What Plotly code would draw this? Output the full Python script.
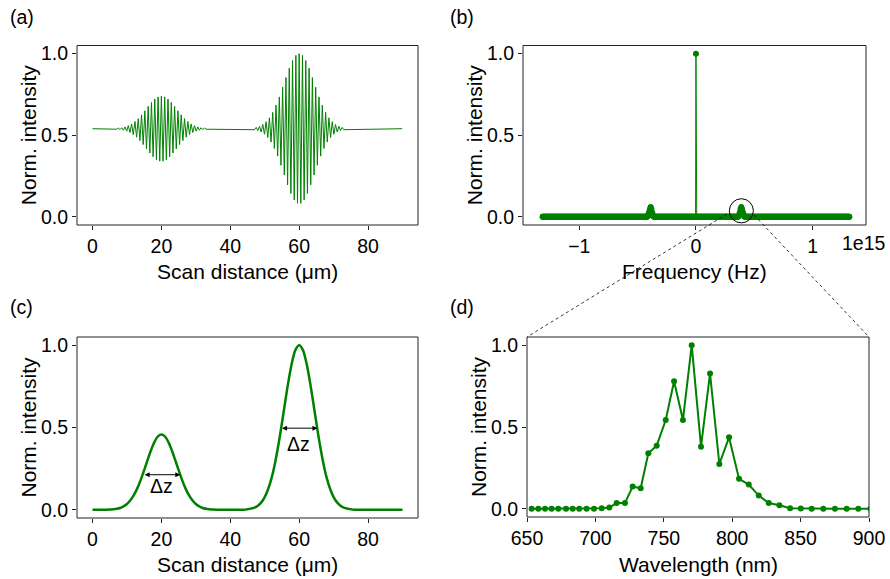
import numpy as np
import plotly.graph_objects as go

W, H = 890, 579
GREEN = "#008000"
FONT = "Liberation Sans, Arial, sans-serif"

# ---------------- (a) interferogram: fringe extremes
scan_a_um = [0.0,
    7.04, 7.52, 8.00, 8.48, 8.96, 9.44, 9.92, 10.40, 10.88, 11.36, 11.84, 12.32, 12.80, 13.28,
    13.76, 14.24, 14.72, 15.20, 15.68, 16.16, 16.64, 17.12, 17.60, 18.08, 18.56, 19.04, 19.52,
    20.00, 20.48, 20.96, 21.44, 21.92, 22.40, 22.88, 23.36, 23.84, 24.32, 24.80, 25.28, 25.76,
    26.24, 26.72, 27.20, 27.68, 28.16, 28.64, 29.12, 29.60, 30.08, 30.56, 31.04, 31.52, 32.00,
    32.48, 32.96,
    47.04, 47.52, 48.00, 48.48, 48.96, 49.44, 49.92, 50.40, 50.88, 51.36, 51.84, 52.32, 52.80, 53.28,
    53.76, 54.24, 54.72, 55.20, 55.68, 56.16, 56.64, 57.12, 57.60, 58.08, 58.56, 59.04, 59.52,
    60.00, 60.48, 60.96, 61.44, 61.92, 62.40, 62.88, 63.36, 63.84, 64.32, 64.80, 65.28, 65.76,
    66.24, 66.72, 67.20, 67.68, 68.16, 68.64, 69.12, 69.60, 70.08, 70.56, 71.04, 71.52, 72.00,
    72.48, 72.96,
    89.9]
signal_a = [0.54,
    0.537, 0.544, 0.535, 0.546, 0.531, 0.551, 0.525, 0.559, 0.517, 0.569, 0.504, 0.584, 0.488, 0.602,
    0.467, 0.625, 0.443, 0.650, 0.416, 0.677, 0.391, 0.701, 0.368, 0.722, 0.350, 0.735, 0.341,
    0.740, 0.341, 0.735, 0.350, 0.722, 0.368, 0.701, 0.391, 0.677, 0.416, 0.650, 0.443, 0.625,
    0.467, 0.602, 0.488, 0.584, 0.504, 0.569, 0.517, 0.559, 0.525, 0.551, 0.531, 0.546, 0.535,
    0.544, 0.537,
    0.534, 0.548, 0.529, 0.555, 0.520, 0.566, 0.506, 0.583, 0.486, 0.607, 0.458, 0.640, 0.419, 0.684,
    0.372, 0.735, 0.316, 0.794, 0.256, 0.854, 0.196, 0.911, 0.143, 0.958, 0.104, 0.989, 0.083,
    1.000, 0.083, 0.989, 0.104, 0.958, 0.143, 0.911, 0.196, 0.854, 0.256, 0.794, 0.316, 0.735,
    0.372, 0.684, 0.419, 0.640, 0.458, 0.607, 0.486, 0.583, 0.506, 0.566, 0.520, 0.555, 0.529,
    0.548, 0.534,
    0.54]

# ---------------- (c) envelope, sampled every 1 um from 0 to 90
scan_c_um = list(range(0, 91))
envelope_c = [0, 0, 0, 0, 0, 0.001, 0.003, 0.006, 0.011, 0.021,
              0.035, 0.058, 0.089, 0.130, 0.182, 0.241, 0.303, 0.363, 0.413, 0.446,
              0.457, 0.446, 0.413, 0.363, 0.303, 0.241, 0.182, 0.130, 0.089, 0.058,
              0.035, 0.021, 0.011, 0.006, 0.003, 0.001, 0, 0, 0, 0,
              0, 0, 0, 0, 0, 0.003, 0.007, 0.013, 0.025, 0.045,
              0.077, 0.126, 0.194, 0.285, 0.398, 0.527, 0.664, 0.794, 0.903, 0.975,
              1.000, 0.975, 0.903, 0.794, 0.664, 0.527, 0.398, 0.285, 0.194, 0.126,
              0.077, 0.045, 0.025, 0.013, 0.007, 0.003, 0, 0, 0, 0,
              0, 0, 0, 0, 0, 0, 0, 0, 0, 0, 0]
# FWHM markers (Δz)
dz_left = [14.7, 54.6]
dz_right = [25.5, 65.3]
dz_level = [0.213, 0.496]
dz_text_y = [0.142, 0.40]

# ---------------- (d) spectrum
wavelength_nm = [653.4, 658.3, 663.2, 668.0, 672.9, 678.5, 683.4, 688.2, 693.6, 699.0,
                 704.6, 710.2, 715.5, 721.6, 727.2, 733.1, 738.7, 744.8, 751.4, 757.5,
                 764.0, 770.4, 777.2, 783.8, 790.6, 797.7, 805.0, 812.1, 819.4, 826.7,
                 834.5, 842.3, 850.1, 858.1, 866.6, 875.1, 883.7, 892.2, 901.0]
spectrum_d = [0, 0, 0, 0, 0, 0, 0, 0, 0, 0,
              0.004, 0.008, 0.035, 0.035, 0.136, 0.126, 0.339, 0.386, 0.543, 0.780,
              0.543, 1.000, 0.380, 0.827, 0.274, 0.437, 0.183, 0.148, 0.081, 0.035,
              0.022, 0.004, 0.002, 0, 0, 0, 0, 0, 0]

# ---------------- (b) FFT magnitude (frequency in units of 1e15 Hz)
freq_step = 0.00332
n_half = 396
dc_value = 1.0
sideband_peak = 0.06
freq_b = np.arange(-n_half, n_half + 1) * freq_step
spec_b = np.zeros_like(freq_b)
spec_b[n_half] = dc_value
for wl, v in zip(wavelength_nm, spectrum_d):
    f = 299.792458 / wl
    for s in (1, -1):
        idx = n_half + int(round(s * f / freq_step))
        if 0 <= idx < len(spec_b):
            spec_b[idx] = sideband_peak * v

fig = go.Figure()
fig.add_trace(go.Scatter(x=scan_a_um, y=signal_a, mode="lines",
                         line=dict(color=GREEN, width=1), xaxis="x", yaxis="y"))
fig.add_trace(go.Scatter(x=freq_b, y=spec_b, mode="lines+markers",
                         line=dict(color=GREEN, width=1),
                         marker=dict(color=GREEN, size=6), xaxis="x2", yaxis="y2"))
fig.add_trace(go.Scatter(x=scan_c_um, y=envelope_c, mode="lines", line_shape="spline",
                         line=dict(color=GREEN, width=2.5), xaxis="x3", yaxis="y3"))
fig.add_trace(go.Scatter(x=wavelength_nm, y=spectrum_d, mode="lines+markers",
                         line=dict(color=GREEN, width=2),
                         marker=dict(color=GREEN, size=6), xaxis="x4", yaxis="y4"))


def px_x(p):
    return p / W


def px_y(p):
    return 1 - p / H


# panel boxes in pixels (left, right, top, bottom)
boxA = (77, 418, 45.5, 225)
boxB = (523, 866, 45.5, 225)
boxC = (77, 418, 337, 518)
boxD = (527, 869, 337, 517)

tickfont = dict(family=FONT, size=19.5, color="black")
titlefont = dict(family=FONT, size=21, color="black")


def xax(box, rng, tickvals, ticktext, anchor):
    return dict(domain=[px_x(box[0]), px_x(box[1])], range=rng, anchor=anchor,
                tickvals=tickvals, ticktext=ticktext, ticks="outside", ticklen=4,
                tickwidth=1, tickcolor="#222", showline=False, showgrid=False,
                zeroline=False, tickfont=tickfont, automargin=False)


def yax(box, anchor):
    return dict(domain=[px_y(box[3]), px_y(box[2])], range=[-0.05, 1.05], anchor=anchor,
                tickvals=[0, 0.5, 1.0], ticktext=["0.0", "0.5", "1.0"], ticks="outside",
                ticklen=4, tickwidth=1, tickcolor="#222", showline=False, showgrid=False,
                zeroline=False, tickfont=tickfont, automargin=False)


scan_ticks = [0, 20, 40, 60, 80]
fig.update_layout(
    width=W, height=H, margin=dict(l=0, r=0, t=0, b=0, autoexpand=False),
    paper_bgcolor="white", plot_bgcolor="white", showlegend=False,
    font=dict(family=FONT, color="black"),
    xaxis=xax(boxA, [-4.5, 94.5], scan_ticks, [str(v) for v in scan_ticks], "y"),
    yaxis=yax(boxA, "x"),
    xaxis2=xax(boxB, [-1.482, 1.457], [-1, 0, 1], ["−1", "0", "1"], "y2"),
    yaxis2=yax(boxB, "x2"),
    xaxis3=xax(boxC, [-4.5, 94.5], scan_ticks, [str(v) for v in scan_ticks], "y3"),
    yaxis3=yax(boxC, "x3"),
    xaxis4=xax(boxD, [650, 900], [650, 700, 750, 800, 850, 900],
               ["650", "700", "750", "800", "850", "900"], "y4"),
    yaxis4=yax(boxD, "x4"),
)

annotations = []


def paper_text(text, x, y, font, angle=0, xanchor="center"):
    annotations.append(dict(text=text, x=px_x(x), y=px_y(y), xref="paper", yref="paper",
                            xanchor=xanchor, yanchor="middle", showarrow=False,
                            textangle=angle, font=font))


for lbl, (x, y) in zip(["(a)", "(b)", "(c)", "(d)"], [(8, 17), (448, 17), (8, 307), (448, 307)]):
    paper_text(lbl, x, y, dict(family=FONT, size=19.5, color="black"), xanchor="left")

# axis titles
x_titles = [("Scan distance (μm)", boxA, 271), ("Frequency (Hz)", boxB, 271),
            ("Scan distance (μm)", boxC, 564), ("Wavelength (nm)", boxD, 564)]
for t, box, y in x_titles:
    paper_text(t, (box[0] + box[1]) / 2, y, titlefont)
for box, x in [(boxA, 28), (boxB, 474), (boxC, 28), (boxD, 478)]:
    paper_text("Norm. intensity", x, (box[2] + box[3]) / 2, titlefont, angle=-90)

# offset text
paper_text("1e15", 864, 243, tickfont)

# Δz arrows
for l, r, lev, ty in zip(dz_left, dz_right, dz_level, dz_text_y):
    annotations.append(dict(x=r, y=lev, ax=l, ay=lev, xref="x3", yref="y3", axref="x3",
                            ayref="y3", text="", showarrow=True, arrowhead=2,
                            arrowside="end+start", arrowsize=1, arrowwidth=1,
                            arrowcolor="black", standoff=0, startstandoff=0))
    annotations.append(dict(x=(l + r) / 2, y=ty, xref="x3", yref="y3", text="Δz",
                            showarrow=False, font=dict(family=FONT, size=19.5, color="black")))
fig.update_layout(annotations=annotations)

shapes = []
# axes frames
for xa, ya in [("x", "y"), ("x2", "y2"), ("x3", "y3"), ("x4", "y4")]:
    shapes.append(dict(type="rect", xref=f"{xa} domain", yref=f"{ya} domain",
                       x0=0, x1=1, y0=0, y1=1, line=dict(color="#222", width=1),
                       layer="above"))
# zoom circle on panel (b) and connecting dotted lines to panel (d)
circ_cx, circ_cy = 0.389, 0.037
circ_rx, circ_ry = 0.103, 0.074
shapes.append(dict(type="circle", xref="x2", yref="y2", x0=circ_cx - circ_rx,
                   x1=circ_cx + circ_rx, y0=circ_cy - circ_ry, y1=circ_cy + circ_ry,
                   line=dict(color="black", width=1)))
for (sx, sy), (ex, ey) in [((727, 214), (boxD[0], boxD[2])), ((754, 215), (boxD[1], boxD[2]))]:
    shapes.append(dict(type="line", xref="paper", yref="paper", x0=px_x(sx), y0=px_y(sy),
                       x1=px_x(ex), y1=px_y(ey), line=dict(color="black", width=0.8, dash="dot")))
fig.update_layout(shapes=shapes)

fig.write_html("out.html")
